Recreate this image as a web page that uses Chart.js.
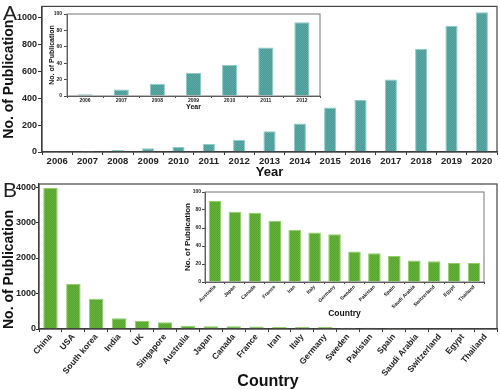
<!DOCTYPE html>
<html><head><meta charset="utf-8">
<script src="https://cdn.jsdelivr.net/npm/chart.js@4"></script>
<style>
html,body{margin:0;padding:0;background:#fff;width:500px;height:390px;overflow:hidden;position:relative}
canvas{position:absolute}
.lbl{position:absolute;font-family:"Liberation Sans",Arial,sans-serif;font-size:21px;color:#222;line-height:1}
</style></head><body>
<canvas id="mainA" width="500" height="180" style="left:0;top:0"></canvas>
<canvas id="insetA" width="285" height="104" style="left:40px;top:8px"></canvas>
<canvas id="mainB" width="500" height="214" style="left:0;top:176px"></canvas>
<canvas id="insetB" width="314" height="134" style="left:175px;top:186px"></canvas>
<div class="lbl" style="left:3px;top:2px">A</div>
<div class="lbl" style="left:3px;top:179px">B</div>
<script>
// ---- data ----
const years = ['2006','2007','2008','2009','2010','2011','2012','2013','2014','2015','2016','2017','2018','2019','2020'];
const pubsByYear = [2, 8, 15, 28, 38, 59, 90, 153, 212, 331, 385, 538, 766, 934, 1036];
const insetYears = ['2006','2007','2008','2009','2010','2011','2012'];
const insetPubsByYear = [2, 8, 15, 28, 38, 59, 90];
const countries = ['China','USA','South korea','India','UK','Singapore','Australia','Japan','Canada','France','Iran','Italy','Germany','Sweden','Pakistan','Spain','Saudi Arabia','Switzerland','Egypt','Thailand'];
const pubsByCountry = [3970, 1276, 853, 300, 225, 190, 90, 78, 77, 68, 58, 55, 53, 34, 32, 29, 24, 23, 21, 21];
const insetCountries = ['Australia','Japan','Canada','France','Iran','Italy','Germany','Sweden','Pakistan','Spain','Saudi Arabia','Switzerland','Egypt','Thailand'];
const insetPubsByCountry = [90, 78, 77, 68, 58, 55, 53, 34, 32, 29, 24, 23, 21, 21];
const yTicksMainA = [0, 200, 400, 600, 800, 1000];
const yTicksInsetA = [0, 20, 40, 60, 80, 100];
const yTicksMainB = [0, 1000, 2000, 3000, 4000];
const yTicksInsetB = [0, 20, 40, 60, 80, 100];

const FONT = '"Liberation Sans", Arial, sans-serif';
Chart.defaults.font.family = FONT;
Chart.defaults.color = '#222';

const framePlugin = {
  id: 'frame',
  afterDatasetsDraw(chart, args, opts) {
    const {ctx, chartArea: a} = chart;
    ctx.save();
    ctx.strokeStyle = opts.color || '#444';
    ctx.lineWidth = opts.width || 1;
    ctx.strokeRect(a.left, a.top, a.right - a.left, a.bottom - a.top);
    ctx.restore();
  }
};

function checker(id, c1, c2) {
  const p = document.createElement('canvas');
  p.width = 2; p.height = 2;
  const x = p.getContext('2d');
  x.fillStyle = c1; x.fillRect(0, 0, 2, 2);
  x.fillStyle = c2; x.fillRect(0, 0, 1, 1); x.fillRect(1, 1, 1, 1);
  return document.getElementById(id).getContext('2d').createPattern(p, 'repeat');
}

function makeChart(id, cfg) {
  return new Chart(document.getElementById(id), {
    type: 'bar',
    data: {
      labels: cfg.labels,
      datasets: [{
        data: cfg.values,
        backgroundColor: checker(id, cfg.c1, cfg.c2),
        borderColor: cfg.border,
        borderWidth: 1,
        categoryPercentage: 1,
        barPercentage: cfg.barPct
      }]
    },
    options: {
      responsive: false,
      animation: false,
      devicePixelRatio: 1,
      layout: {padding: cfg.pad},
      plugins: {legend: {display: false}, tooltip: {enabled: false},
        frame: {color: cfg.frameColor, width: cfg.frameWidth}},
      scales: {
        x: {
          afterFit(s) { s.height = cfg.xH; },
          grid: {drawOnChartArea: false, drawTicks: true, tickLength: cfg.xTickLen, color: cfg.axisColor},
          border: {display: true, color: cfg.axisColor, width: cfg.frameWidth},
          ticks: {autoSkip: false, maxRotation: cfg.rot, minRotation: cfg.rot, padding: cfg.xTickPad,
            font: {size: cfg.xTickSize, weight: 'bold'}, color: '#222'},
          title: {display: true, text: cfg.xTitle, font: {size: cfg.xTitleSize, weight: 'bold', lineHeight: 1},
            padding: {top: 0, bottom: cfg.xTitlePad}, color: '#111'}
        },
        y: {
          min: 0, max: cfg.yMax,
          afterFit(s) { s.width = cfg.yW; },
          afterBuildTicks(s) { s.ticks = cfg.yTicks.map(v => ({value: v})); },
          grid: {drawOnChartArea: false, drawTicks: true, tickLength: cfg.yTickLen, color: cfg.axisColor},
          border: {display: true, color: cfg.axisColor, width: cfg.frameWidth},
          ticks: {padding: cfg.yTickPad, callback: v => String(v),
            font: {size: cfg.yTickSize, weight: 'bold'}, color: '#222'},
          title: {display: true, text: 'No. of Publication', align: cfg.yTitleAlign,
            font: {size: cfg.yTitleSize, weight: 'bold', lineHeight: 1},
            padding: {top: cfg.yTitlePad, bottom: 0}, color: '#111'}
        }
      }
    },
    plugins: [framePlugin]
  });
}

const TEAL1 = '#4b9a96', TEAL2 = '#5aaba7', TEALB = '#8ccbc6';
const GREEN1 = '#55a52c', GREEN2 = '#66b23c', GREENB = '#8fd066';

makeChart('mainA', {labels: years, values: pubsByYear, c1: TEAL1, c2: TEAL2, border: TEALB, barPct: 0.4,
  pad: {top: 4, right: 3, left: 0, bottom: 0}, xH: 28, yW: 42, rot: 0,
  xTickLen: 3, xTickPad: 1, xTickSize: 9.5, xTitle: 'Year', xTitleSize: 13, xTitlePad: 1.5,
  yMax: 1080, yTicks: yTicksMainA, yTickLen: 4, yTickPad: 1, yTickSize: 9, yTitleSize: 14, yTitlePad: 2,
  yTitleAlign: 'center', axisColor: '#333', frameColor: '#444', frameWidth: 1.2});

makeChart('insetA', {labels: insetYears, values: insetPubsByYear, c1: TEAL1, c2: TEAL2, border: TEALB, barPct: 0.42,
  pad: {top: 6, right: 5, left: 0, bottom: 0}, xH: 16, yW: 27, rot: 0,
  xTickLen: 2, xTickPad: 0, xTickSize: 5, xTitle: 'Year', xTitleSize: 7, xTitlePad: 1.5,
  yMax: 100, yTicks: yTicksInsetA, yTickLen: 3, yTickPad: 2, yTickSize: 5, yTitleSize: 7, yTitlePad: 8.5,
  yTitleAlign: 'center', axisColor: '#444', frameColor: '#777', frameWidth: 1});

makeChart('mainB', {labels: countries, values: pubsByCountry, c1: GREEN1, c2: GREEN2, border: GREENB, barPct: 0.63,
  pad: {top: 8, right: 3, left: 0, bottom: 0}, xH: 61, yW: 39, rot: 50,
  xTickLen: 3, xTickPad: 0, xTickSize: 8.5, xTitle: 'Country', xTitleSize: 16, xTitlePad: 0,
  yMax: 4085, yTicks: yTicksMainB, yTickLen: 3, yTickPad: 0, yTickSize: 9, yTitleSize: 14, yTitlePad: 2,
  yTitleAlign: 'start', axisColor: '#333', frameColor: '#444', frameWidth: 1.2});

makeChart('insetB', {labels: insetCountries, values: insetPubsByCountry, c1: GREEN1, c2: GREEN2, border: GREENB, barPct: 0.63,
  pad: {top: 6, right: 5, left: 0, bottom: 0}, xH: 38, yW: 30, rot: 45,
  xTickLen: 2, xTickPad: 0, xTickSize: 5, xTitle: 'Country', xTitleSize: 8.5, xTitlePad: 1.75,
  yMax: 100, yTicks: yTicksInsetB, yTickLen: 3, yTickPad: 1, yTickSize: 5, yTitleSize: 8, yTitlePad: 9,
  yTitleAlign: 'center', axisColor: '#444', frameColor: '#777', frameWidth: 1});
</script>
</body></html>
